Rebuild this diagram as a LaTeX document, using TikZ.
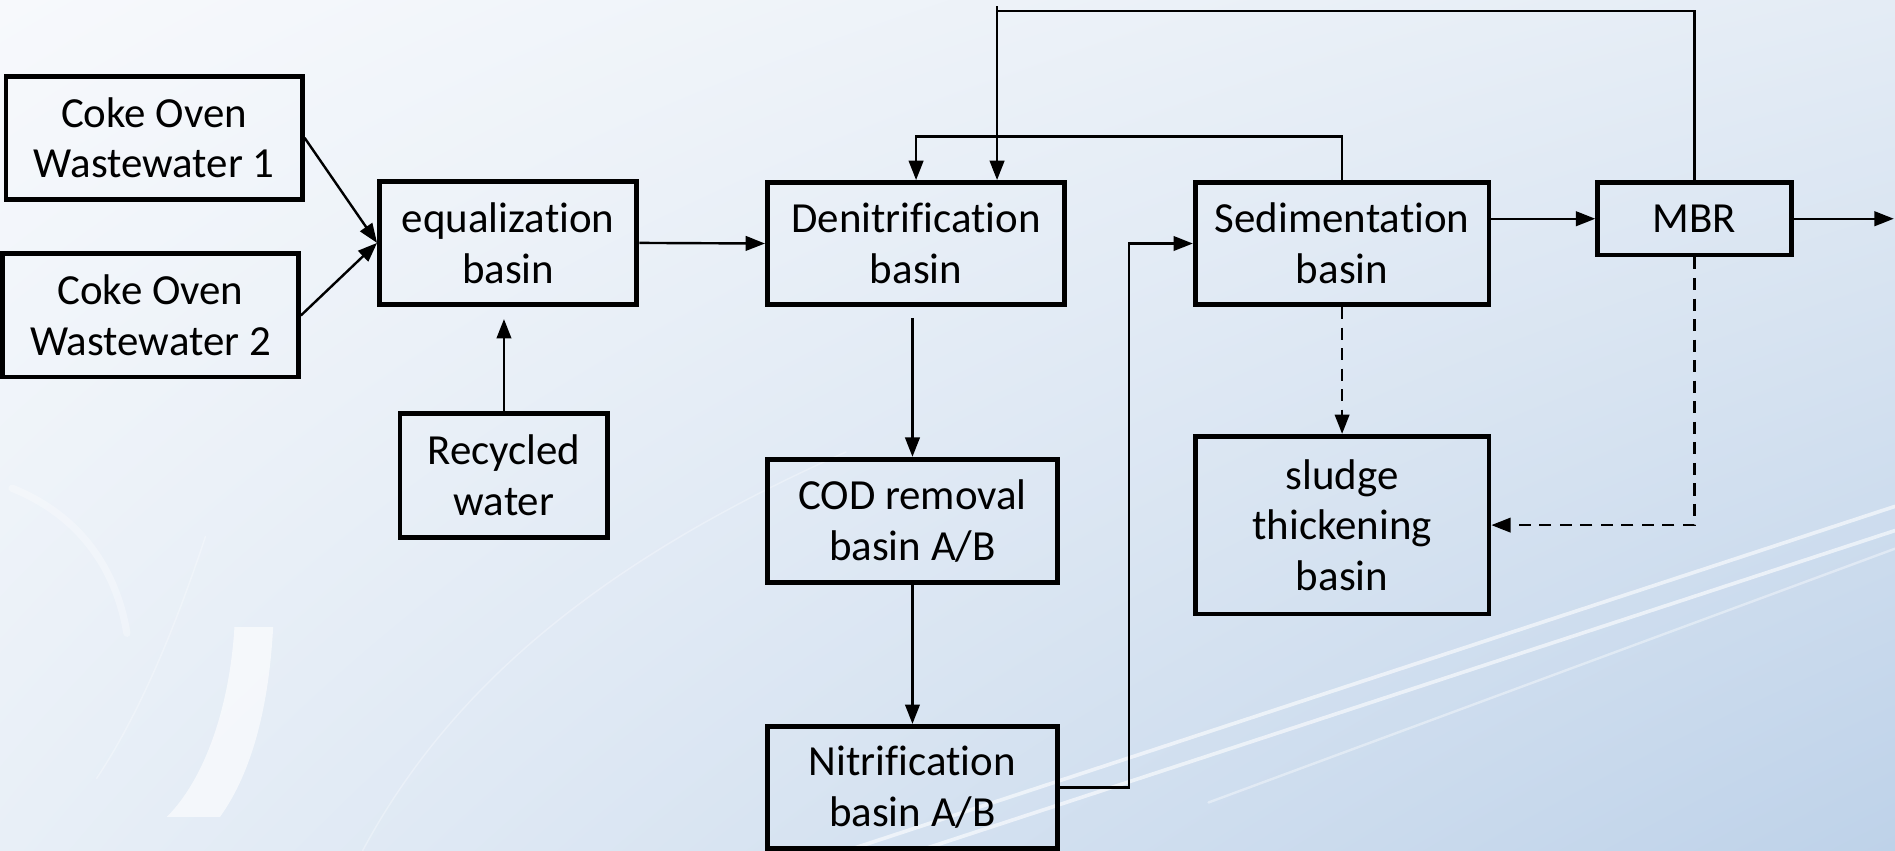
\documentclass[tikz,border=0pt]{standalone}
\usepackage{fontspec}
\setmainfont[Ligatures=NoCommon]{Carlito}
\usetikzlibrary{arrows.meta,calc,shadings}
\definecolor{bgUL}{RGB}{247,249,252}
\definecolor{bgUR}{RGB}{228,236,245}
\definecolor{bgLL}{RGB}{232,239,247}
\definecolor{bgLR}{RGB}{190,210,233}
\tikzset{
  box/.style={draw=black, line width=4pt, rectangle, inner sep=0pt, align=center,
    font=\fontsize{35.5}{42}\selectfont},
  flow/.style={line width=2pt, -{Triangle[length=16pt,width=12pt]}},
  plain/.style={line width=2pt},
  dflow/.style={flow, dash pattern=on 10pt off 7pt},
  streak/.style={white, opacity=0.4, line cap=round}
}
\begin{document}
\begin{tikzpicture}[x=1pt,y=1pt]
\useasboundingbox (0,0) rectangle (1568,704);
% background
\shade[upper left=bgUL, upper right=bgUR, lower left=bgLL, lower right=bgLR] (0,0) rectangle (1568,704);
\draw[streak, line width=3pt, opacity=0.6] (700,0) -- (1568,285);
\draw[streak, line width=3pt, opacity=0.6] (760,0) -- (1568,265);
\draw[streak, line width=2pt] (1000,40) -- (1568,250);
\draw[streak, line width=1.2pt, opacity=0.3] (300,0) .. controls (380,150) and (520,250) .. (700,330);
\draw[streak, line width=1.2pt, opacity=0.3] (80,60) .. controls (120,120) and (150,200) .. (170,260);
\fill[white, opacity=0.6] (194,185) -- (226,185) .. controls (222,110) and (205,60) .. (182,28) -- (138,28) .. controls (170,60) and (190,120) .. (194,185) -- cycle;
\draw[streak, line width=6pt, opacity=0.3] (10,300) .. controls (60,280) and (95,240) .. (105,180);
% nodes
\node[box, minimum width=245pt, minimum height=102pt] (ww1) at (127.5,590) {Coke Oven\\Wastewater 1};
\node[box, minimum width=245pt, minimum height=102pt] (ww2) at (124.5,443) {Coke Oven\\Wastewater 2};
\node[box, minimum width=213pt, minimum height=102pt] (eq) at (420.5,503) {equalization\\basin};
\node[box, minimum width=172pt, minimum height=103pt] (rec) at (417,310.5) {Recycled\\water};
\node[box, minimum width=246pt, minimum height=101pt] (den) at (758,502.5) {Denitrification\\basin};
\node[box, minimum width=240pt, minimum height=102pt] (cod) at (755,273) {COD removal\\basin A/B};
\node[box, minimum width=240pt, minimum height=101pt] (nit) at (755,52.5) {Nitrification\\basin A/B};
\node[box, minimum width=243pt, minimum height=101pt] (sed) at (1110.5,502.5) {Sedimentation\\basin};
\node[box, minimum width=160pt, minimum height=60pt] (mbr) at (1402,523) {MBR};
\node[box, minimum width=243pt, minimum height=147pt] (sl) at (1110.5,269.5) {sludge\\thickening\\basin};
% helper coordinates
\coordinate (fb1) at (758,591);
\coordinate (fb2) at (825,695);
\coordinate (fb2top) at (825,699);
\coordinate (out) at (1567,523);
% connectors
\draw[flow] (ww1.east) -- (eq.west);
\draw[flow] (ww2.east) -- (eq.west);
\draw[flow] (eq.east) -- (den.west);
\draw[flow, shorten >=10pt] (rec.north) -- (rec.north |- eq.south);
\draw[flow, shorten <=9pt] (den.south -| cod.north) -- (cod.north);
\draw[flow] (cod.south) -- (nit.north);
\draw[flow] (nit.east) -- ++(57,0) |- (sed.west);
\draw[flow] (sed.north) |- (fb1) -- (den.north);
\draw[plain] (mbr.north) |- (fb2);
\draw[flow] (fb2top) -- (fb2 |- den.north);
\draw[flow] (sed.east |- mbr.west) -- (mbr.west);
\draw[flow] (mbr.east) -- (out);
\draw[dflow] (sed.south) -- (sl.north);
\draw[dflow] (mbr.south) |- (sl.east);
\end{tikzpicture}
\end{document}
